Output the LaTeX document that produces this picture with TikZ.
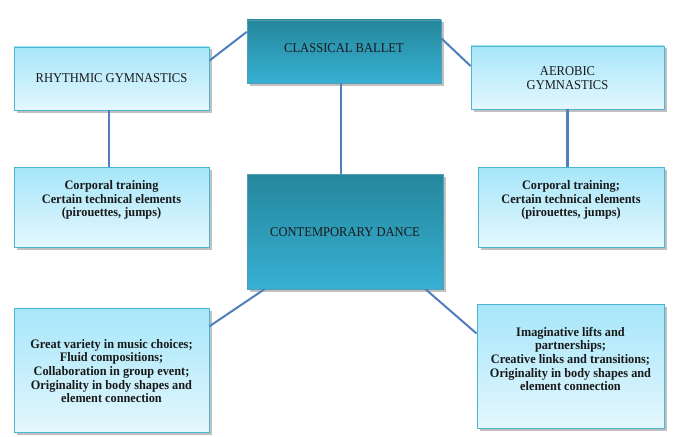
\documentclass[tikz,border=0pt]{standalone}
\usepackage{fontspec}
\setmainfont{Liberation Serif}
\newfontfamily\titlefont[FakeStretch=0.93]{Liberation Serif}
\newfontfamily\bodyfont[FakeStretch=0.945]{Liberation Serif}
\usetikzlibrary{calc,shadows}
\definecolor{linkblue}{HTML}{4F7FBD}
\definecolor{darktop}{HTML}{25879C}
\definecolor{darkbot}{HTML}{37B0D3}
\definecolor{lighttop}{HTML}{A6E6FA}
\definecolor{lightbot}{HTML}{E4F7FD}
\definecolor{lightedge}{HTML}{4DB6CF}
\tikzset{
  boxbase/.style={rectangle, inner sep=0pt, drop shadow={shadow xshift=2.5pt, shadow yshift=-2.5pt, opacity=0.35, fill=black!70}},
  darkbox/.style={boxbase, top color=darktop, bottom color=darkbot, draw=darktop!80!white, line width=0.4pt},
  lightbox/.style={boxbase, top color=lighttop, bottom color=lightbot, draw=lightedge, line width=0.9pt},
  titletext/.style={align=center, font=\titlefont\fontsize{13.5}{14}\selectfont, text=black!90},
  bodytext/.style={align=center, font=\bodyfont\fontsize{13}{13.7}\selectfont\bfseries, text=black!90},
  link/.style={draw=linkblue, line width=2pt},
}
\begin{document}
\begin{tikzpicture}[x=1pt,y=-1pt]
\useasboundingbox[fill=white] (0,0) rectangle (676,436);
% boxes
\node[darkbox, minimum width=194pt, minimum height=63pt] (ballet) at (344,51.5) {};
\node[lightbox, minimum width=195pt, minimum height=63pt] (rhythm) at (111.5,78.5) {};
\node[lightbox, minimum width=193pt, minimum height=63pt] (aerobic) at (567.5,77.5) {};
\node[lightbox, minimum width=195pt, minimum height=80pt] (corpL) at (111.5,207) {};
\node[darkbox, minimum width=196pt, minimum height=115pt] (contemp) at (345,231.5) {};
\node[lightbox, minimum width=186pt, minimum height=80pt] (corpR) at (571,207) {};
\node[lightbox, minimum width=195pt, minimum height=124pt] (botL) at (111.5,370) {};
\node[lightbox, minimum width=187pt, minimum height=124pt] (botR) at (570.5,366) {};
% texts
\node[titletext] (tballet) at (344,48) {CLASSICAL BALLET};
\node[titletext] (trhythm) at (111.5,78) {RHYTHMIC GYMNASTICS};
\node[titletext] (taerobic) at (567.5,78) {AEROBIC\\GYMNASTICS};
\node[titletext] (tcontemp) at (345,232) {CONTEMPORARY DANCE};
\node[bodytext, font=\bodyfont\fontsize{13}{13.5}\selectfont\bfseries] (tcorpL) at (111.5,200) {Corporal training\\Certain technical elements\\(pirouettes, jumps)};
\node[bodytext, font=\bodyfont\fontsize{13}{13.5}\selectfont\bfseries] (tcorpR) at (571,200) {Corporal training;\\Certain technical elements\\(pirouettes, jumps)};
\node[bodytext] (tbotL) at (111.5,371) {Great variety in music choices;\\Fluid compositions;\\Collaboration in group event;\\Originality in body shapes and\\element connection};
\node[bodytext] (tbotR) at (570.5,359) {Imaginative lifts and\\partnerships;\\Creative links and transitions;\\Originality in body shapes and\\element connection};
% connectors
\draw[link] ($(ballet.north west)!0.19!(ballet.south west)$) -- ($(rhythm.north east)!0.22!(rhythm.south east)$);
\draw[link] ($(ballet.north east)!0.29!(ballet.south east)$) -- ($(aerobic.north west)!0.32!(aerobic.south west)$);
\draw[link] ([xshift=-3pt]ballet.south) -- ([xshift=-3pt]ballet.south |- contemp.north);
\draw[link] ([xshift=-3pt]rhythm.south) -- ([xshift=-3pt]rhythm.south |- corpL.north);
\draw[link, line width=3pt] (aerobic.south) -- (aerobic.south |- corpR.north);
\draw[link] ($(contemp.south west)!0.09!(contemp.south east)$) -- ($(botL.north east)!0.15!(botL.south east)$);
\draw[link] ($(contemp.south west)!0.91!(contemp.south east)$) -- ($(botR.north west)!0.24!(botR.south west)$);
\end{tikzpicture}
\end{document}
